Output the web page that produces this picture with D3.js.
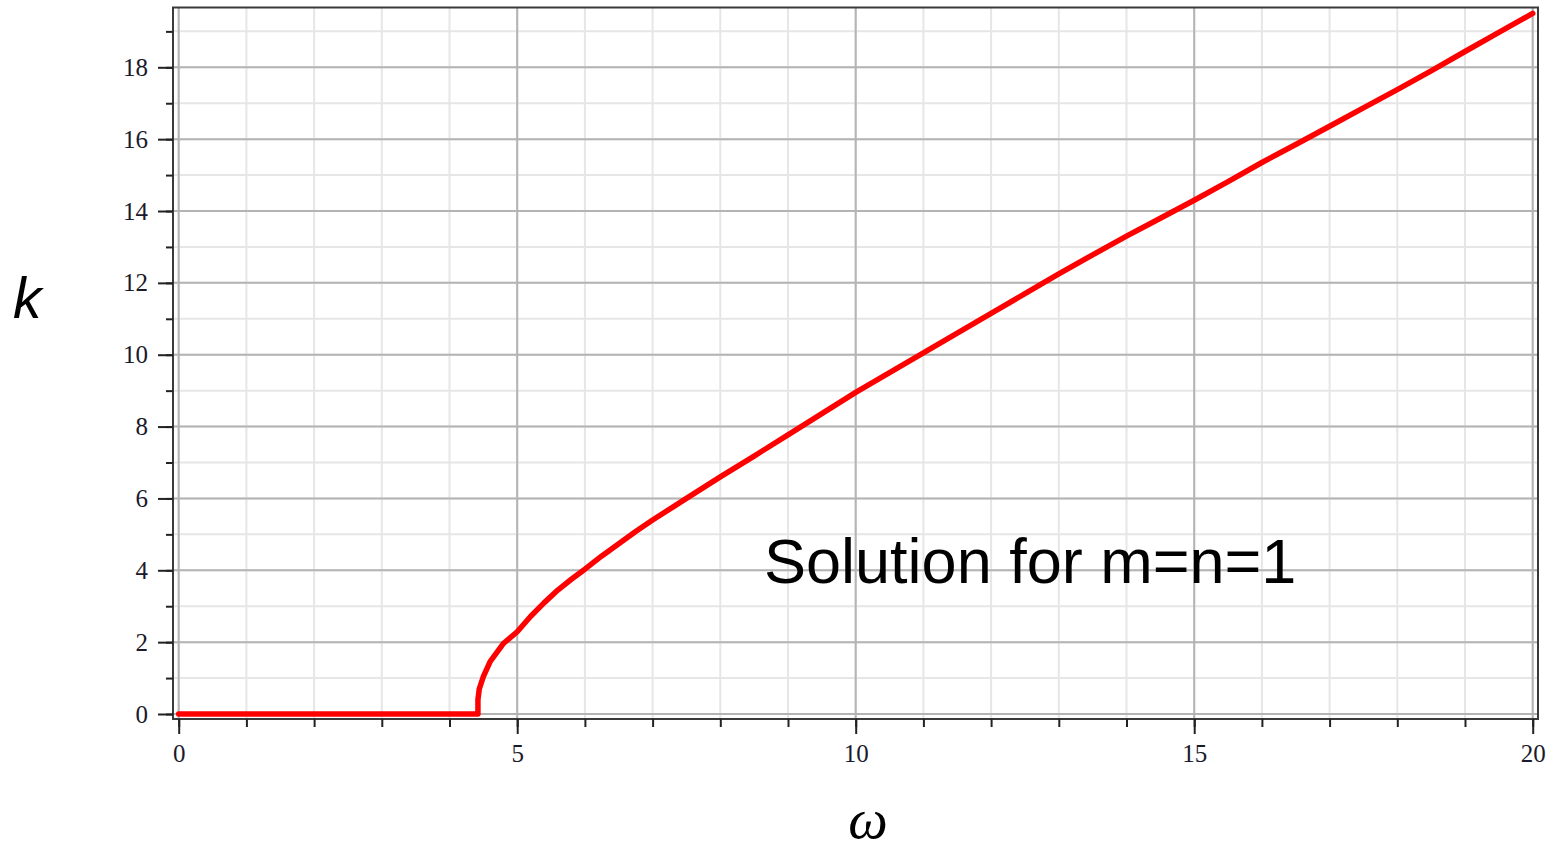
<!DOCTYPE html>
<html>
<head>
<meta charset="utf-8">
<script src="https://cdn.jsdelivr.net/npm/d3@7"></script>
<style>
  html, body { margin: 0; padding: 0; background: #fff; }
  svg { display: block; }
</style>
</head>
<body>
<div id="chart"></div>
<script>
// values (omega -> k)
const omega = [0, 1, 2, 3, 4, 4.42, 4.42, 4.44, 4.5, 4.6, 4.8, 5.0, 5.2, 5.4, 5.6, 5.8, 6.0, 6.25, 6.5, 6.75, 7.0, 7.5, 8.0, 8.5, 9.0, 9.5, 10, 10.5, 11, 11.5, 12, 12.5, 13, 13.5, 14, 14.5, 15, 15.5, 16, 16.5, 17, 17.5, 18, 18.5, 19, 19.5, 20];
const kVals = [0, 0, 0, 0, 0, 0, 0.4, 0.7, 1.04, 1.46, 1.97, 2.29, 2.72, 3.1, 3.45, 3.75, 4.03, 4.4, 4.74, 5.08, 5.4, 6.0, 6.6, 7.18, 7.77, 8.36, 8.95, 9.5, 10.05, 10.6, 11.15, 11.7, 12.25, 12.78, 13.3, 13.8, 14.3, 14.82, 15.35, 15.85, 16.36, 16.87, 17.38, 17.9, 18.44, 18.97, 19.5];

const xMajorTicks = [0, 5, 10, 15, 20];
const xMinorTicks = d3.range(0, 21, 1);
const yMajorTicks = [0, 2, 4, 6, 8, 10, 12, 14, 16, 18];
const yMinorTicks = d3.range(0, 20, 1);

const xLabel = "ω";
const yLabel = "k";
const note = "Solution for m=n=1";

// ---- layout -----------------------------------------------------------------
const W = 1554, H = 852;
const frame = { left: 173, right: 1538, top: 7.5, bottom: 719 };

const x = d3.scaleLinear().domain([0, 20]).range([178.7, 1532.7]);
const y = d3.scaleLinear().domain([0, 18]).range([714, 67.3]);

const svg = d3.select("#chart").append("svg")
  .attr("width", W).attr("height", H)
  .attr("viewBox", `0 0 ${W} ${H}`);

// grid: minor first, then major on top
const grid = svg.append("g");
grid.selectAll("line.vmin").data(xMinorTicks).join("line")
  .attr("x1", d => x(d)).attr("x2", d => x(d))
  .attr("y1", frame.top).attr("y2", frame.bottom)
  .attr("stroke", "#e6e6e6").attr("stroke-width", 2);
grid.selectAll("line.hmin").data(yMinorTicks).join("line")
  .attr("y1", d => y(d)).attr("y2", d => y(d))
  .attr("x1", frame.left).attr("x2", frame.right)
  .attr("stroke", "#e6e6e6").attr("stroke-width", 2);
grid.selectAll("line.vmaj").data(xMajorTicks).join("line")
  .attr("x1", d => x(d)).attr("x2", d => x(d))
  .attr("y1", frame.top).attr("y2", frame.bottom)
  .attr("stroke", "#b4b4b4").attr("stroke-width", 2);
grid.selectAll("line.hmaj").data(yMajorTicks).join("line")
  .attr("y1", d => y(d)).attr("y2", d => y(d))
  .attr("x1", frame.left).attr("x2", frame.right)
  .attr("stroke", "#b4b4b4").attr("stroke-width", 2);

// frame
svg.append("rect")
  .attr("x", frame.left).attr("y", frame.top)
  .attr("width", frame.right - frame.left).attr("height", frame.bottom - frame.top)
  .attr("fill", "none").attr("stroke", "#3a3a3a").attr("stroke-width", 2);

// axes (minor ticks, then major ticks with labels)
const tickFont = "'Liberation Serif', 'Times New Roman', serif";
function styleAxis(g) {
  g.select(".domain").remove();
  g.selectAll(".tick line").attr("stroke", "#222").attr("stroke-width", 2);
  g.selectAll(".tick text").attr("fill", "#1a1a2a")
    .style("font-family", tickFont).style("font-size", "25px");
}

svg.append("g").attr("transform", `translate(0,${frame.bottom})`)
  .call(d3.axisBottom(x).tickValues(xMinorTicks).tickSize(8).tickFormat(""))
  .call(styleAxis);
svg.append("g").attr("transform", `translate(0,${frame.bottom})`)
  .call(d3.axisBottom(x).tickValues(xMajorTicks).tickSize(15).tickPadding(10).tickFormat(d3.format("d")))
  .call(styleAxis);

svg.append("g").attr("transform", `translate(${frame.left},0)`)
  .call(d3.axisLeft(y).tickValues(yMinorTicks).tickSize(7).tickFormat(""))
  .call(styleAxis);
svg.append("g").attr("transform", `translate(${frame.left},0)`)
  .call(d3.axisLeft(y).tickValues(yMajorTicks).tickSize(15).tickPadding(10).tickFormat(d3.format("d")))
  .call(styleAxis);

// curve
const pts = omega.map((w, i) => ({ w, k: kVals[i] }));
const line = d3.line().x(d => x(d.w)).y(d => y(d.k));
svg.append("path")
  .attr("d", line(pts))
  .attr("fill", "none")
  .attr("stroke", "#ff0000")
  .attr("stroke-width", 5.5)
  .attr("stroke-linejoin", "round")
  .attr("stroke-linecap", "round");

// labels
svg.append("text")
  .attr("x", 13).attr("y", 318)
  .style("font-family", "'Liberation Sans', Arial, sans-serif")
  .style("font-style", "italic").style("font-size", "57px")
  .attr("fill", "#000").text(yLabel);

svg.append("text")
  .attr("x", 868).attr("y", 838).attr("text-anchor", "middle")
  .style("font-family", "'Liberation Serif', 'Times New Roman', serif")
  .style("font-style", "italic").style("font-size", "56px")
  .attr("fill", "#000").text(xLabel);

svg.append("text")
  .attr("x", 764).attr("y", 583)
  .style("font-family", "'Liberation Sans', Arial, sans-serif")
  .style("font-size", "63px")
  .attr("fill", "#000").text(note);
</script>
</body>
</html>
